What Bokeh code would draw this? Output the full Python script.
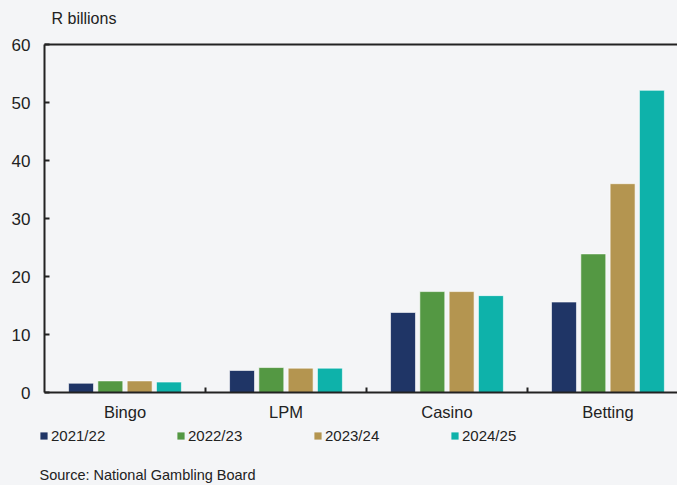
from bokeh.plotting import figure
from bokeh.layouts import column
from bokeh.models import (ColumnDataSource, Range1d, FixedTicker, LinearAxis, Label,
                          Legend, LegendItem)
from bokeh.transform import dodge
from bokeh.embed import file_html
from bokeh.resources import INLINE

categories = ["Bingo", "LPM", "Casino", "Betting"]
years = ["2021/22", "2022/23", "2023/24", "2024/25"]
v2122 = [1.6, 3.8, 13.8, 15.6]
v2223 = [2.0, 4.3, 17.4, 23.9]
v2324 = [2.0, 4.2, 17.4, 36.0]
v2425 = [1.8, 4.2, 16.7, 52.1]
colors = ["#1f3566", "#549843", "#b49550", "#0eb2aa"]
y_ticks = [0, 10, 20, 30, 40, 50, 60]

FONT = "Liberation Sans"
TXT = "#222222"
BG = "#f4f5f7"


def blank(height):
    f = figure(width=677, height=height, output_backend="svg", toolbar_location=None,
               x_range=Range1d(0, 1), y_range=Range1d(0, 1),
               min_border_left=0, min_border_right=0, min_border_top=0, min_border_bottom=0)
    f.axis.visible = False
    f.grid.visible = False
    f.outline_line_color = None
    f.background_fill_color = BG
    f.border_fill_color = BG
    f.frame_align = False
    return f


xpos = [i + 0.5 for i in range(len(categories))]
source = ColumnDataSource(dict(x=xpos, v2122=v2122, v2223=v2223, v2324=v2324, v2425=v2425))

p = figure(width=677, height=393, output_backend="svg", toolbar_location=None,
           x_range=Range1d(0, 3.932), y_range=Range1d(0, 60),
           min_border_left=44, min_border_right=0, min_border_top=12, min_border_bottom=33)
p.background_fill_color = BG
p.border_fill_color = BG
p.outline_line_color = None
p.xgrid.visible = False
p.ygrid.visible = False
p.frame_align = False

offsets = [-0.273, -0.091, 0.091, 0.273]
fields = ["v2122", "v2223", "v2324", "v2425"]
for f, off, c in zip(fields, offsets, colors):
    p.vbar(x=dodge("x", off), top=f, width=0.155, source=source,
           fill_color=c, line_color="white", line_alpha=0.6, line_width=1)

# x axis
xa = p.xaxis[0]
xa.ticker = FixedTicker(ticks=xpos, minor_ticks=[1, 2, 3])
xa.major_label_overrides = {x: c for x, c in zip(xpos, categories)}
xa.major_tick_in = 0
xa.major_tick_out = 0
xa.minor_tick_in = 5
xa.minor_tick_out = 0
xa.minor_tick_line_width = 2
xa.minor_tick_line_color = TXT
xa.axis_line_width = 2
xa.axis_line_color = TXT
xa.major_label_text_font = FONT
xa.major_label_text_font_size = "16.5px"
xa.major_label_text_color = TXT
xa.major_label_standoff = 10

# y axis
ya = p.yaxis[0]
ya.ticker = FixedTicker(ticks=y_ticks)
ya.major_tick_in = 5
ya.major_tick_out = 0
ya.major_tick_line_width = 2
ya.major_tick_line_color = TXT
ya.minor_tick_line_color = None
ya.axis_line_width = 2
ya.axis_line_color = TXT
ya.major_label_text_font = FONT
ya.major_label_text_font_size = "17px"
ya.major_label_text_color = TXT
ya.major_label_standoff = 14

# top border line (plain axis without ticks or labels)
top = LinearAxis(ticker=FixedTicker(ticks=[]), axis_line_width=2, axis_line_color=TXT,
                 major_tick_line_color=None, minor_tick_line_color=None,
                 major_label_text_color=None, major_label_standoff=0,
                 axis_label_standoff=0, major_tick_out=0, major_tick_in=0)
p.add_layout(top, "above")

# header
head = blank(32)
head.add_layout(Label(x=51, y=14, x_units="screen", y_units="screen", text="R billions",
                      text_font=FONT, text_font_size="16px", text_color=TXT,
                      text_baseline="alphabetic"))

# footer: legend and source note
foot = blank(60)
nan = float("nan")
swatches = [foot.vbar(x=[nan], top=[nan], width=0.1, fill_color=c, line_color=None)
            for c in colors]
legend = Legend(items=[LegendItem(label=y, renderers=[r]) for y, r in zip(years, swatches)],
                orientation="horizontal", location=(39, 41),
                glyph_width=9, glyph_height=9, label_standoff=3, label_width=125,
                spacing=0, padding=0, margin=0, label_height=9,
                border_line_color=None, background_fill_alpha=0,
                label_text_font=FONT, label_text_font_size="15px", label_text_color=TXT)
foot.add_layout(legend)
foot.add_layout(Label(x=39, y=11, x_units="screen", y_units="screen",
                      text="Source: National Gambling Board",
                      text_font=FONT, text_font_size="14.5px", text_color=TXT,
                      text_baseline="alphabetic"))

layout = column(head, p, foot, spacing=0)
layout.styles = {"background-color": BG}
open("out.html", "w").write(file_html(layout, INLINE))
